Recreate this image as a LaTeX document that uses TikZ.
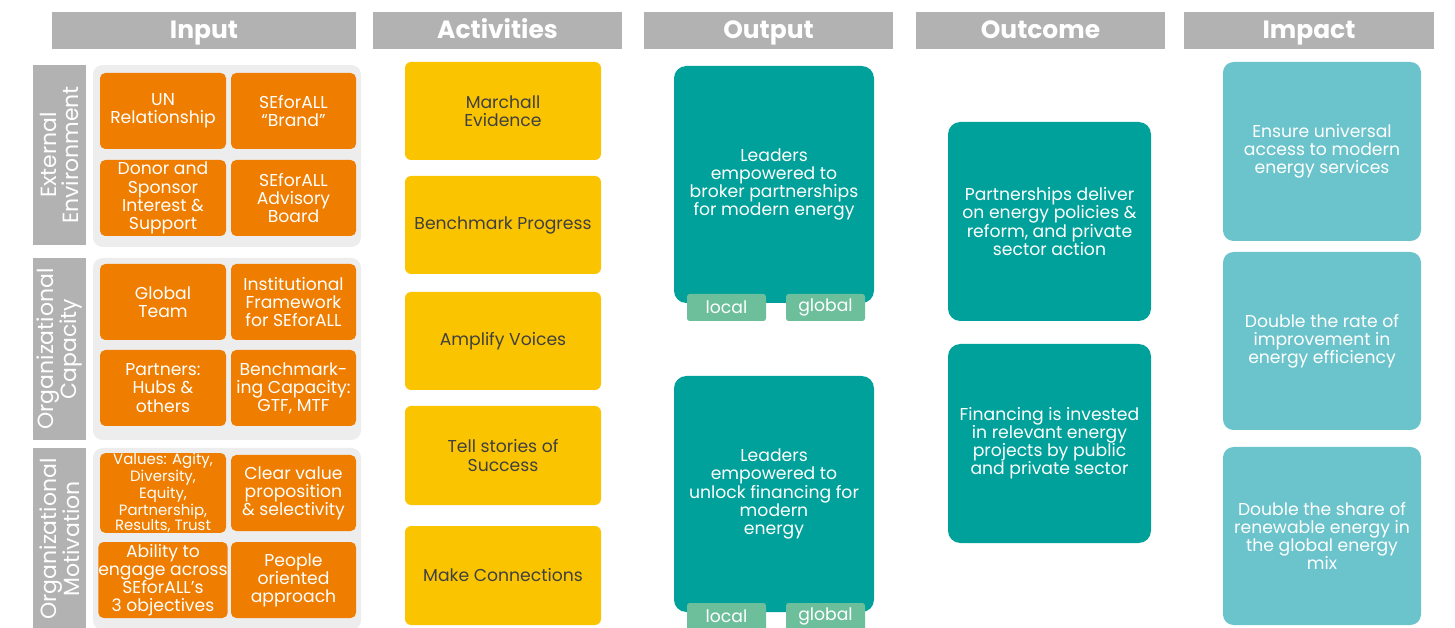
\documentclass[tikz,border=0pt]{standalone}
\usepackage{fontspec}
\setmainfont{Poppins}
\definecolor{hdrgray}{HTML}{B2B2B2}
\definecolor{panelgray}{HTML}{EDEDED}
\definecolor{inorange}{HTML}{EF7D00}
\definecolor{actyellow}{HTML}{FBC400}
\definecolor{outteal}{HTML}{00A19A}
\definecolor{taggreen}{HTML}{6DBF9B}
\definecolor{impteal}{HTML}{6BC4CB}
\definecolor{acttext}{HTML}{404040}
\begin{document}
\begin{tikzpicture}[x=0.02cm,y=-0.02cm, font=\fontsize{9.8}{10.3}\selectfont,
		sz/.style 2 args={minimum width=#1*0.02cm, minimum height=#2*0.02cm, inner sep=0pt, align=center},
		hdr/.style={fill=hdrgray, text=white, font=\fontsize{14.2}{15}\selectfont\bfseries, text height=11.2pt, text depth=2pt},
		side/.style={fill=hdrgray},
		sidetext/.style={text=white, rotate=90, align=center, font=\fontsize{12.5}{13}\selectfont},
		inbox/.style={fill=inorange, text=white, rounded corners=3pt},
		actbox/.style={fill=actyellow, text=acttext, rounded corners=3.5pt},
		outbox/.style={fill=outteal, text=white, rounded corners=7pt},
		tagbox/.style={fill=taggreen, text=white, rounded corners=1.5pt},
		impbox/.style={fill=impteal, text=white, rounded corners=6pt}]
	\useasboundingbox (0,0) rectangle (1455,628);
	% column headers
	\foreach \cx/\w/\t [count=\i] in {204/304/Input, 497.5/249/Activities, 768.5/249/Output, 1040.5/249/Outcome, 1309/250/Impact}
		\node[hdr, sz={\w}{37}] (head\i) at (\cx,30.5) {\t};
	% input panels and side labels
	\foreach \ya/\yb in {65/247, 258/440, 448/630}
		\fill[panelgray, rounded corners=5.5pt] (93,\ya) rectangle (361,\yb);
	\node[side, sz={53}{180}] (sideExt) at (59.5,155) {};
	\node[sidetext] at (sideExt) {External\\Environment};
	\node[side, sz={53}{182}] (sideCap) at (59.5,349) {};
	\node[sidetext] at (sideCap) {Organizational\\Capacity};
	\node[side, sz={53}{182}] (sideMot) at (59.5,539) {};
	\node[sidetext] at (sideMot) {Organizational\\Motivation};
	% input boxes
	\node[inbox, sz={126}{76}] (unRel) at (163,111) {UN\\Relationship};
	\node[inbox, sz={125}{76}] (brand) at (293.5,111) {SEforALL\\“Brand”};
	\node[inbox, sz={126}{76}] (donor) at (163,198) {Donor and\\Sponsor\\Interest \&\\Support};
	\node[inbox, sz={125}{76}] (board) at (293.5,198) {SEforALL\\Advisory\\Board};
	\node[inbox, sz={126}{76}] (team) at (163,302) {Global\\Team};
	\node[inbox, sz={125}{76}] (frame) at (293.5,302) {Institutional\\Framework\\for SEforALL};
	\node[inbox, sz={126}{76}] (partners) at (163,388) {Partners:\\Hubs \&\\others};
	\node[inbox, sz={125}{76}] (bench) at (293.5,388) {Benchmark-\\ing Capacity:\\GTF, MTF};
	\node[inbox, sz={126}{76}, font=\fontsize{8.5}{8.6}\selectfont] (values) at (163,493) {Values: Agity,\\Diversity,\\Equity,\\Partnership,\\Results, Trust};
	\node[inbox, sz={125}{76}] (clear) at (293.5,493) {Clear value\\proposition\\\& selectivity};
	\node[inbox, sz={126}{76}] (ability) at (163,580) {Ability to\\engage across\\SEforALL’s\\3 objectives};
	\node[inbox, sz={125}{76}] (people) at (293.5,580) {People\\oriented\\approach};
	% activities
	\node[actbox, sz={196}{98}] (marchall) at (503,111) {Marchall\\Evidence};
	\node[actbox, sz={196}{98}] (progress) at (503,225) {Benchmark Progress};
	\node[actbox, sz={196}{98}] (voices) at (503,341) {Amplify Voices};
	\node[actbox, sz={196}{99}] (stories) at (503,455.5) {Tell stories of\\Success};
	\node[actbox, sz={196}{99}] (connect) at (503,575.5) {Make Connections};
	% outputs
	\node[outbox, sz={200}{237}] (broker) at (774,184.5) {Leaders\\empowered to\\broker partnerships\\for modern energy};
	\node[outbox, sz={200}{236}] (unlock) at (774,494) {Leaders\\empowered to\\unlock financing for\\modern\\energy};
	\foreach \o/\cy in {broker/307.5, unlock/616.5}{
		\node[tagbox, sz={79}{27}] (\o Local) at (726.5,\cy) {local};
		\node[tagbox, sz={79}{27}] (\o Global) at (825.5,\cy) {global};
	}
	% outcomes
	\node[outbox, sz={203}{199}] (deliver) at (1049.5,221.5) {Partnerships deliver\\on energy policies \&\\reform, and private\\sector action};
	\node[outbox, sz={203}{199}] (invest) at (1049.5,443.5) {Financing is invested\\in relevant energy\\projects by public\\and private sector};
	% impacts
	\node[impbox, sz={198}{179}] (access) at (1322,151.5) {Ensure universal\\access to modern\\energy services};
	\node[impbox, sz={198}{178}] (effic) at (1322,341) {Double the rate of\\improvement in\\energy efficiency};
	\node[impbox, sz={198}{178}] (renew) at (1322,536) {Double the share of\\renewable energy in\\the global energy\\mix};
\end{tikzpicture}
\end{document}
